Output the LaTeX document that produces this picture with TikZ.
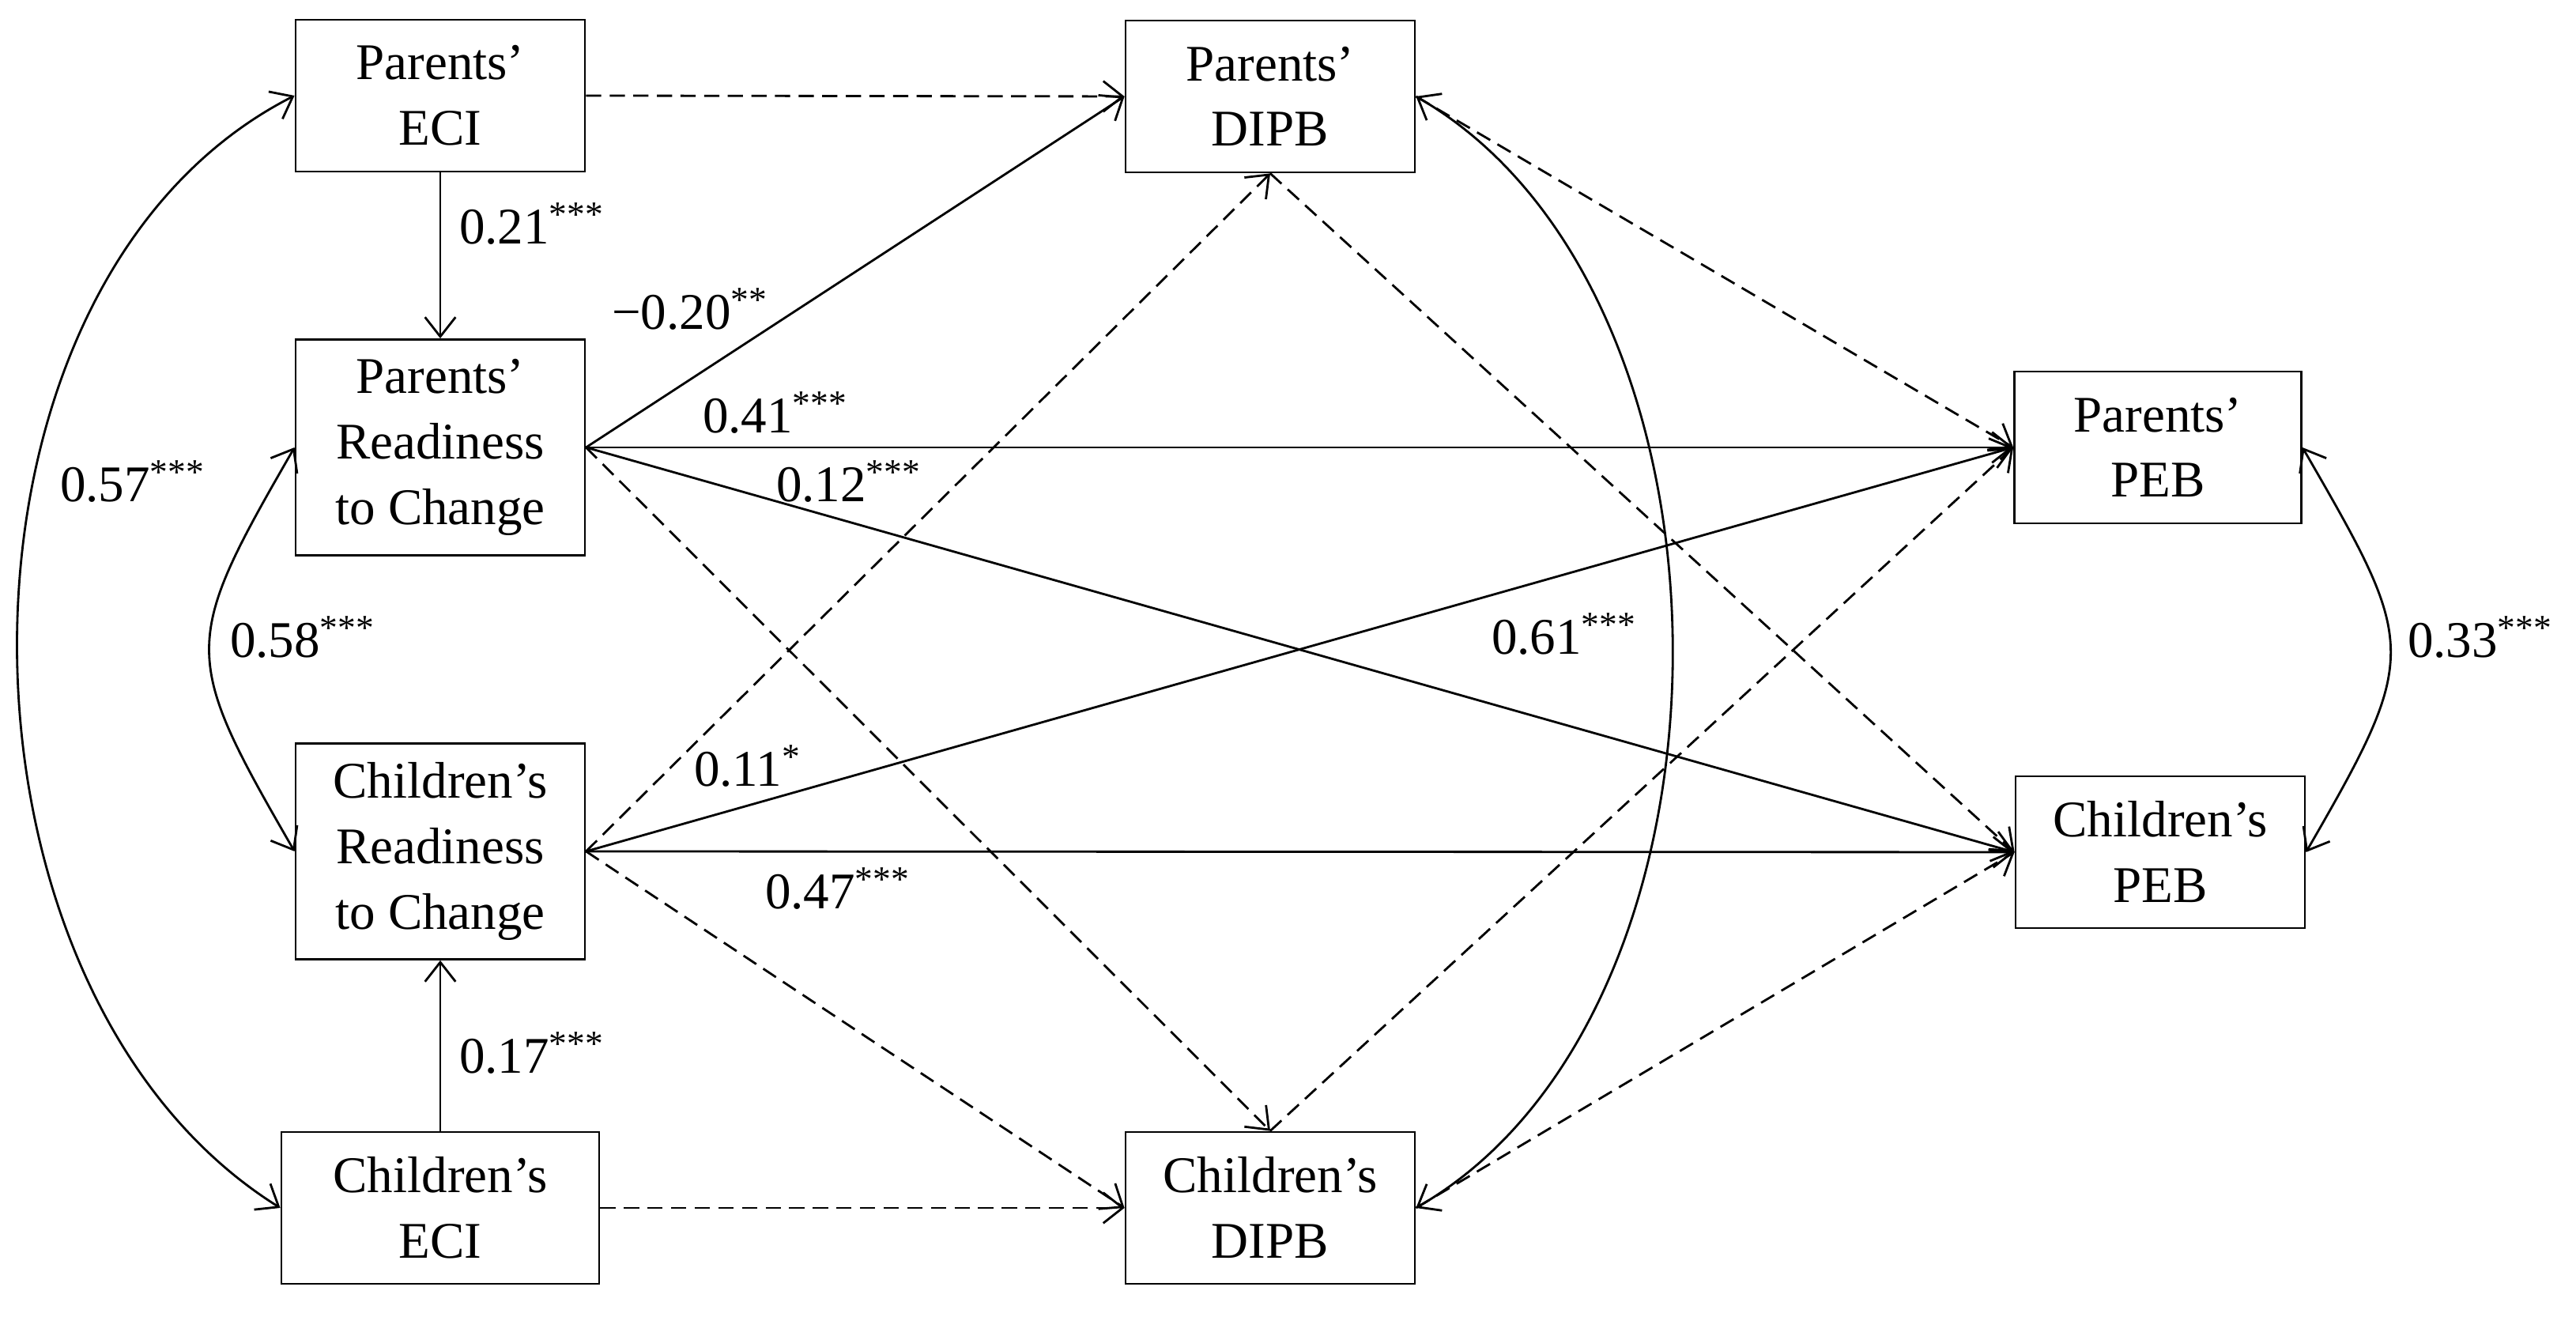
\documentclass[tikz,border=0pt]{standalone}
\usepackage{fontspec}
\setmainfont{Liberation Serif}
\usetikzlibrary{positioning}
\usetikzlibrary{arrows.meta}

\begin{document}
\begin{tikzpicture}[
	font = \fontsize{18.5}{23.6}\selectfont,
	> = {Straight Barb[length = 7pt, width = 11pt]},
	line width = 0.8pt,
	var/.style = {draw, align = center, inner sep = 0pt, minimum width = 3.66cm, minimum height = 1.92cm},
	ready/.style = {var, minimum height = 2.73cm},
	coef/.style = {inner sep = 0pt},
	sigpath/.style = {black, ->},
	nspath/.style = {black, ->, dash pattern = on 5.5pt off 3pt},
	corr/.style = {black, <->}
]
	\useasboundingbox (0, 0) rectangle (32.59, 16.66);

	% variables
	\node [var] (peci) at (5.57, 15.45) {Parents’\\ECI};
	\node [ready] (prc) at (5.57, 11.00) {Parents’\\Readiness\\to Change};
	\node [ready] (crc) at (5.57, 5.89) {Children’s\\Readiness\\to Change};
	\node [var, minimum width = 4.02cm] (ceci) at (5.57, 1.38) {Children’s\\ECI};
	\node [var] (pdipb) at (16.07, 15.44) {Parents’\\DIPB};
	\node [var] (cdipb) at (16.07, 1.38) {Children’s\\DIPB};
	\node [var, minimum width = 3.63cm] (ppeb) at (27.30, 11.00) {Parents’\\PEB};
	\node [var] (cpeb) at (27.33, 5.88) {Children’s\\PEB};

	% significant paths
	\draw [sigpath] (peci) -- (prc);
	\draw [sigpath] (ceci) -- (crc);
	\draw [sigpath] (prc.east) -- (pdipb.west);
	\draw [sigpath] (prc.east) -- (ppeb.west);
	\draw [sigpath] (prc.east) -- (cpeb.west);
	\draw [sigpath] (crc.east) -- (ppeb.west);
	\draw [sigpath] (crc.east) -- (cpeb.west);

	% non-significant paths
	\foreach \a/\b in {peci.east/pdipb.west, ceci.east/cdipb.west, prc.east/cdipb.north, crc.east/pdipb.south, crc.east/cdipb.west, pdipb.east/ppeb.west, pdipb.south/cpeb.west, cdipb.north/ppeb.west, cdipb.east/cpeb.west}
		\draw [nspath] (\a) -- (\b);

	% covariances
	\draw [corr] (peci.west) to [out = 207, in = 148, looseness = 0.95] (ceci.west);
	\draw [corr] (prc.west) to [out = 240, in = 120, looseness = 1.44] (crc.west);
	\draw [corr] (pdipb.east) to [out = -30, in = 30, looseness = 0.91] (cdipb.east);
	\draw [corr] (ppeb.east) to [out = -60, in = 60, looseness = 1.45] (cpeb.east);

	% coefficients
	\node [coef] (c21) at (6.73, 13.83) {0.21\textsuperscript{***}};
	\node [coef] (c20) at (8.73, 12.75) {−0.20\textsuperscript{**}};
	\node [coef] (c41) at (9.81, 11.44) {0.41\textsuperscript{***}};
	\node [coef] (c12) at (10.74, 10.57) {0.12\textsuperscript{***}};
	\node [coef] (c11) at (9.46, 6.97) {0.11\textsuperscript{*}};
	\node [coef] (c47) at (10.60, 5.42) {0.47\textsuperscript{***}};
	\node [coef] (c17) at (6.73, 3.34) {0.17\textsuperscript{***}};
	\node [coef] (c57) at (1.68, 10.57) {0.57\textsuperscript{***}};
	\node [coef] (c58) at (3.83, 8.60) {0.58\textsuperscript{***}};
	\node [coef] (c61) at (19.79, 8.64) {0.61\textsuperscript{***}};
	\node [coef] (c33) at (31.38, 8.60) {0.33\textsuperscript{***}};
\end{tikzpicture}
\end{document}
